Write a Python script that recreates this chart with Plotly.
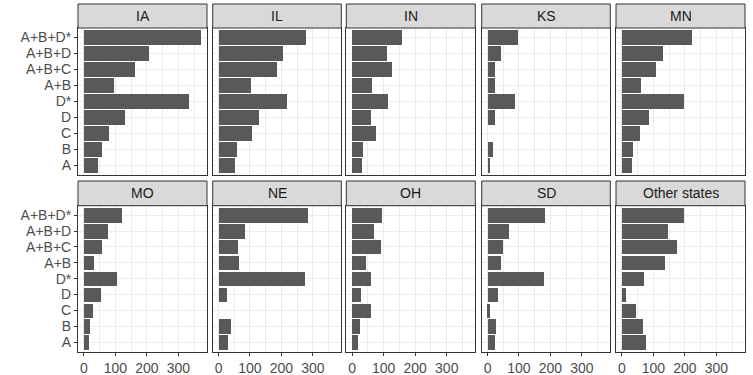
import plotly.graph_objects as go
from plotly.subplots import make_subplots

categories = ["A", "B", "C", "D", "D*", "A+B", "A+B+C", "A+B+D", "A+B+D*"]

ia = [45, 56, 80, 130, 332, 96, 162, 206, 372]
il = [51, 57, 105, 128, 217, 102, 185, 204, 278]
in_ = [32, 35, 77, 61, 115, 64, 128, 112, 160]
ks = [8, 16, 0, 22, 86, 22, 22, 41, 96]
mn = [32, 35, 57, 86, 198, 61, 108, 131, 223]
mo = [16, 19, 29, 54, 105, 32, 57, 77, 121]
ne = [29, 38, 0, 26, 274, 64, 61, 83, 284]
oh = [19, 26, 61, 29, 61, 45, 93, 70, 96]
sd = [22, 26, 6, 32, 179, 41, 48, 67, 182]
other = [77, 67, 45, 13, 70, 137, 176, 147, 198]

panels = [("IA", ia), ("IL", il), ("IN", in_), ("KS", ks), ("MN", mn),
          ("MO", mo), ("NE", ne), ("OH", oh), ("SD", sd), ("Other states", other)]

W, H = 753, 375
col_x = [(78, 207), (212.7, 341.3), (346.3, 475.3), (481.7, 610.3), (616, 745)]
rows_y = [(28, 175), (205.7, 351.7)]   # panel top/bottom in px
strip_y = [(4, 28), (181, 205.7)]

fig = make_subplots(rows=2, cols=5)

xmax = max(max(v) for _, v in panels)
xr = [-0.05 * xmax, 1.05 * xmax]
font = "Liberation Sans, Arial, sans-serif"

for i, (name, vals) in enumerate(panels):
    r, c = divmod(i, 5)
    fig.add_trace(go.Bar(x=vals, y=categories, orientation="h", width=0.9,
                         marker=dict(color="#595959", line=dict(width=0)),
                         showlegend=False), row=r + 1, col=c + 1)
    x0, x1 = col_x[c]
    y0, y1 = rows_y[r]
    n = i + 1
    xa = "xaxis" if n == 1 else f"xaxis{n}"
    ya = "yaxis" if n == 1 else f"yaxis{n}"
    fig.layout[xa].update(
        domain=[x0 / W, x1 / W], range=xr, automargin=False,
        tickmode="array", tickvals=[0, 100, 200, 300],
        showgrid=True, gridcolor="#EBEBEB", gridwidth=1, zeroline=False,
        minor=dict(showgrid=True, gridcolor="#EBEBEB", gridwidth=0.6,
                   tickvals=[50, 150, 250, 350]),
        showline=True, mirror=True, linecolor="#333333", linewidth=1,
        showticklabels=(r == 1), ticks="outside" if r == 1 else "",
        ticklen=3, tickcolor="#333333",
        tickfont=dict(family=font, size=14, color="#4D4D4D"))
    fig.layout[ya].update(
        domain=[1 - y1 / H, 1 - y0 / H], type="category", automargin=False,
        categoryorder="array", categoryarray=categories, range=[-0.6, 8.6],
        tickmode="array", tickvals=categories,
        showgrid=True, gridcolor="#EBEBEB", gridwidth=1, zeroline=False,
        showline=True, mirror=True, linecolor="#333333", linewidth=1,
        showticklabels=(c == 0), ticks="outside" if c == 0 else "",
        ticklen=3, tickcolor="#333333",
        tickfont=dict(family=font, size=14, color="#4D4D4D"))
    sy0, sy1 = strip_y[r]
    fig.add_shape(type="rect", xref="paper", yref="paper",
                  x0=x0 / W, x1=x1 / W, y0=1 - sy1 / H, y1=1 - sy0 / H,
                  fillcolor="#D9D9D9", line=dict(color="#333333", width=1))
    fig.add_annotation(text=name, xref="paper", yref="paper",
                       x=(x0 + x1) / 2 / W, y=1 - (sy0 + sy1) / 2 / H,
                       showarrow=False, xanchor="center", yanchor="middle",
                       font=dict(family=font, size=14, color="#1A1A1A"))

fig.update_layout(width=W, height=H, margin=dict(l=0, r=0, t=0, b=0),
                  paper_bgcolor="white", plot_bgcolor="white", bargap=0)

fig.write_html("out.html", config={"displayModeBar": False},
               post_script="document.body.style.margin='0';"
                           "document.body.style.overflow='hidden';")
